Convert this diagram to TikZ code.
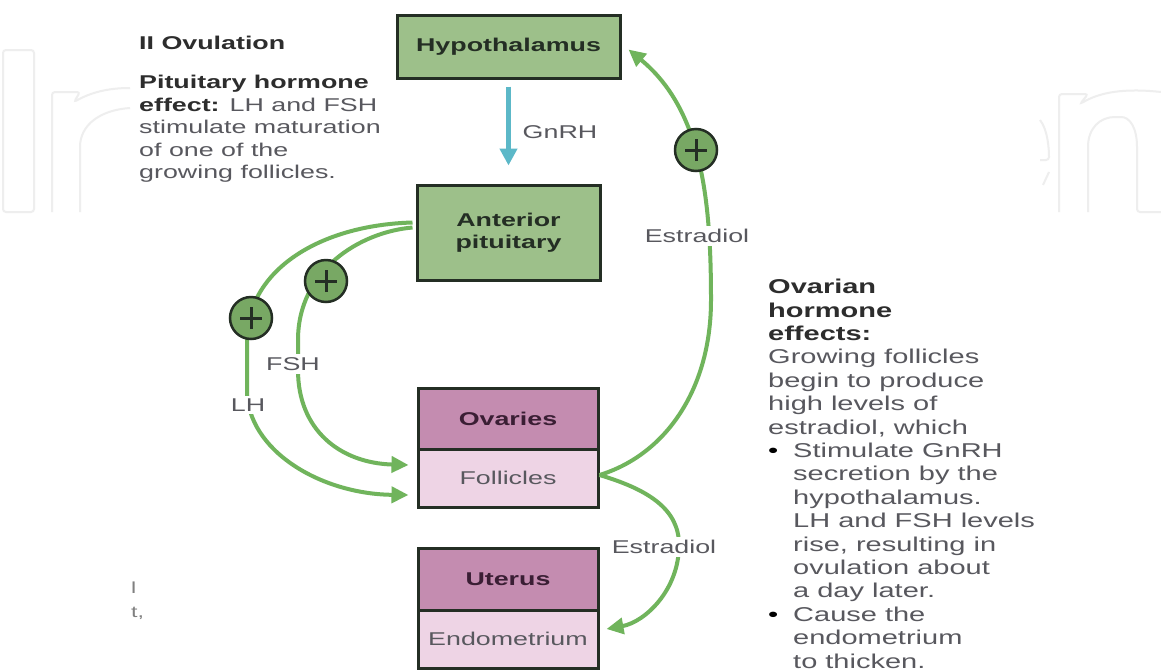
\documentclass[tikz,border=0pt]{standalone}
\usepackage{fontspec}
\setmainfont[FakeStretch=1.45]{Liberation Sans}
\usetikzlibrary{arrows.meta}
\definecolor{boxgreen}{RGB}{157,192,138}
\definecolor{boxdark}{RGB}{36,46,36}
\definecolor{ovcol}{RGB}{196,140,176}
\definecolor{ovtext}{RGB}{58,30,52}
\definecolor{folcol}{RGB}{238,212,229}
\definecolor{arrgreen}{RGB}{112,180,92}
\definecolor{gnrhcol}{RGB}{92,184,200}
\definecolor{txtgray}{RGB}{88,88,94}
\definecolor{txtdark}{RGB}{45,45,45}
\definecolor{pluscol}{RGB}{120,168,100}
\definecolor{wmark}{RGB}{238,238,238}
\tikzset{
  gbox/.style={draw=boxdark, line width=3pt, fill=boxgreen, text=boxdark, align=center,
    font=\bfseries\fontsize{18.5}{22}\selectfont, inner sep=0pt},
  pbox/.style={draw=boxdark, line width=3pt, fill=ovcol, text=ovtext, align=center,
    font=\bfseries\fontsize{18.5}{22}\selectfont, inner sep=0pt, minimum width=180pt},
  lbox/.style={draw=boxdark, line width=3pt, fill=folcol, text=txtgray, align=center,
    font=\fontsize{18.5}{22}\selectfont, inner sep=0pt, minimum width=180pt},
  flow/.style={draw=arrgreen, line width=4pt, -{Triangle[length=17pt,width=16pt]}},
  gflow/.style={draw=gnrhcol, line width=5pt, -{Triangle[length=17pt,width=17pt]}},
  lbl/.style={fill=white, text=txtgray, font=\fontsize{18.5}{22}\selectfont, inner sep=3pt},
  plusc/.style={circle, draw=boxdark, line width=2.5pt, fill=pluscol, minimum size=42pt, inner sep=0pt,
    path picture={
      \draw[boxdark, line width=3pt] ([xshift=-11pt]path picture bounding box.center) -- ([xshift=11pt]path picture bounding box.center);
      \draw[boxdark, line width=3pt] ([yshift=-11pt]path picture bounding box.center) -- ([yshift=11pt]path picture bounding box.center);
    }},
  para/.style={align=left, inner sep=0pt, text=txtgray},
  wm/.style={draw=wmark, line width=2pt, rounded corners=3pt}
}
\begin{document}
\begin{tikzpicture}[x=1pt,y=-1pt]
\useasboundingbox (0,0) rectangle (1161,670);
\fill[white] (0,0) rectangle (1161,670);

% faint watermark
\draw[wm] (3,50) rectangle (34,212);
\draw[wm] (52,212) -- (52,92) -- (80,92) -- (74,102) .. controls (95,90) and (115,88) .. (130,88);
\draw[wm] (80,212) -- (80,150) .. controls (80,125) and (100,110) .. (130,108);
\draw[wm] (1059,212) -- (1059,94) -- (1088,94) -- (1080,104) .. controls (1100,92) and (1125,88) .. (1161,92);
\draw[wm] (1088,212) -- (1088,150) .. controls (1088,128) and (1100,117) .. (1118,117) .. controls (1130,117) and (1137,128) .. (1137,150) -- (1137,212) -- (1161,212);
\draw[wm] (1040,120) .. controls (1048,130) and (1049,150) .. (1049,160) -- (1040,160);
\draw[wm] (1049,172) -- (1043,185);

% boxes
\node[gbox, minimum width=223pt, minimum height=63pt] (hyp) at (508.5,46.5) {Hypothalamus};
\node[gbox, minimum width=183pt, minimum height=95pt] (ap) at (508.5,232.5) {Anterior\\pituitary};
\node[pbox, minimum height=61pt] (ov) at (508,418.5) {Ovaries};
\node[lbox, minimum height=58pt] (fol) at (508,478) {Follicles};
\node[pbox, minimum height=62pt] (ut) at (508,579) {Uterus};
\node[lbox, minimum height=58pt] (endo) at (508,639) {Endometrium};

% GnRH
\draw[gflow] ([yshift=-7pt]hyp.south) -- ([yshift=18pt]ap.north);
\node[lbl] (gnrh) at (560,132) {GnRH};

% Estradiol to hypothalamus
\coordinate (fr) at ([yshift=3pt]fol.east);
\draw[flow] (fr) .. controls (665,455) and (711,390) .. (711,300)
  .. controls (711,200) and (702,110) .. ([xshift=7pt,yshift=-3pt]hyp.east);
\node[lbl] (e1) at (697,236) {Estradiol};
\node[plusc] (p1) at (696,150) {};

% Estradiol to endometrium
\draw[flow] (fr) .. controls (650,490) and (679,510) .. (679,545)
  .. controls (679,590) and (645,622) .. ([xshift=7pt,yshift=10pt]endo.east);
\node[lbl] (e2) at (664,547) {Estradiol};

% LH
\draw[flow] ([xshift=-3pt,yshift=10pt]ap.west) .. controls (320,225) and (247,270) .. (247,340)
  -- (247,390) .. controls (247,450) and (320,494) .. ([xshift=-8pt,yshift=-17pt]fol.west);
\node[lbl] (lh) at (248,405) {LH};
\node[plusc] (p2) at (251,318) {};

% FSH
\draw[flow] ([xshift=-3pt,yshift=5pt]ap.west) .. controls (360,232) and (298,270) .. (298,340)
  -- (298,370) .. controls (298,430) and (340,463) .. ([xshift=-8pt,yshift=13pt]fol.west);
\node[lbl] (fsh) at (293,364) {FSH};
\node[plusc] (p3) at (326,281) {};

% left text
\node[anchor=base west, inner sep=0pt, text=txtdark, font=\bfseries\fontsize{18.5}{22}\selectfont] (title) at (139,49) {II Ovulation};
\node[para, anchor=north west, font=\fontsize{18.5}{22.5}\selectfont] (left) at (139,75)
{{\color{txtdark}\bfseries Pituitary hormone}\\
{\color{txtdark}\bfseries effect:} LH and FSH\\
stimulate maturation\\
of one of the\\
growing follicles.};

% right text
\node[para, anchor=north west, font=\fontsize{20}{23.4}\selectfont] (right) at (768,279)
{{\color{txtdark}\bfseries Ovarian}\\
{\color{txtdark}\bfseries hormone}\\
{\color{txtdark}\bfseries effects:}\\
Growing follicles\\
begin to produce\\
high levels of\\
estradiol, which\\
\makebox[25pt][l]{\color{black}\textbullet}Stimulate GnRH\\
\hspace*{25pt}secretion by the\\
\hspace*{25pt}hypothalamus.\\
\hspace*{25pt}LH and FSH levels\\
\hspace*{25pt}rise, resulting in\\
\hspace*{25pt}ovulation about\\
\hspace*{25pt}a day later.\\
\makebox[25pt][l]{\color{black}\textbullet}Cause the\\
\hspace*{25pt}endometrium\\
\hspace*{25pt}to thicken.};

% clipped fragments at bottom left
\node[anchor=base west, inner sep=0pt, text=gray, font=\fontsize{16}{18}\selectfont] (frag1) at (131,593) {l};
\node[anchor=base west, inner sep=0pt, text=gray, font=\fontsize{16}{18}\selectfont] (frag2) at (131,617) {t,};
\end{tikzpicture}
\end{document}
